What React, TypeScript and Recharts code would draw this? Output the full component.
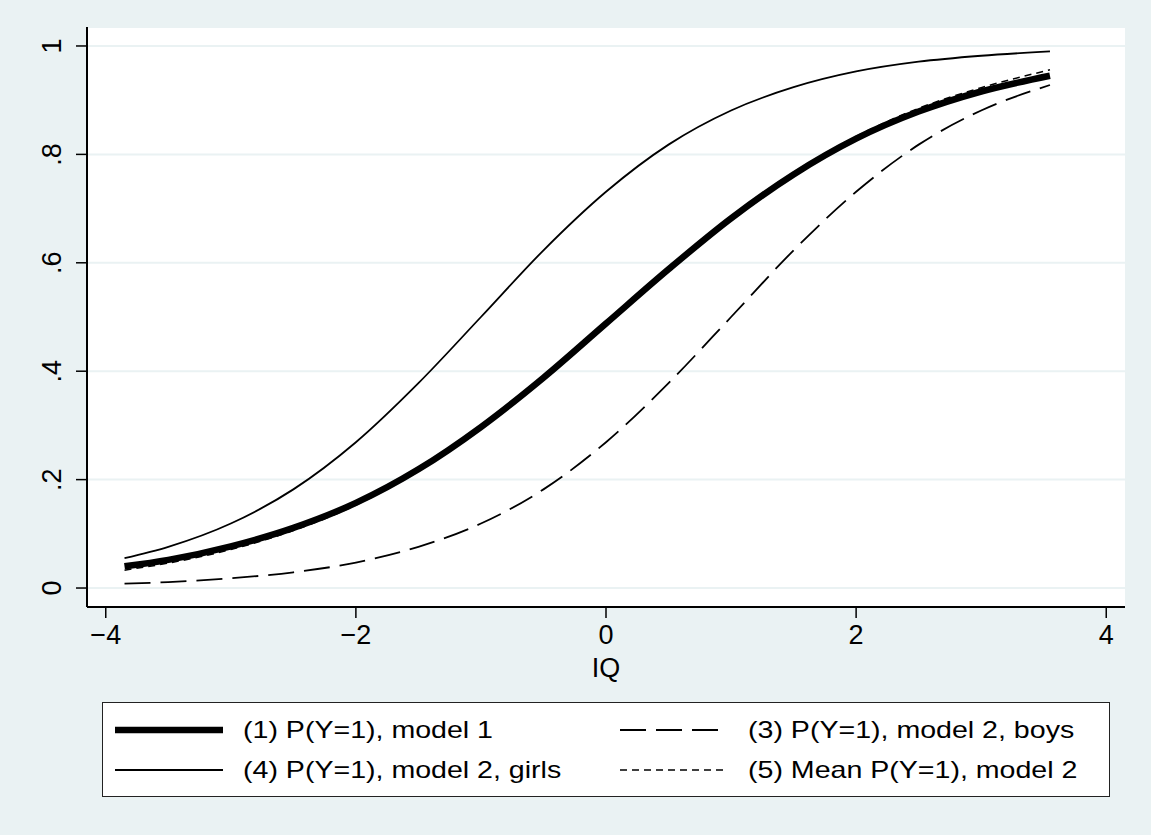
import { LineChart, Line, XAxis, YAxis, CartesianGrid } from 'recharts';

const BG = '#eaf2f3';
const FONT = '"Liberation Sans", Arial, Helvetica, sans-serif';

// IQ values and predicted probabilities
const iq = [-3.85, -3.5, -3, -2.5, -2, -1.5, -1, -0.5, 0, 0.5, 1, 1.5, 2, 2.5, 3, 3.55];
const model1 = [0.040, 0.052, 0.077, 0.111, 0.157, 0.219, 0.297, 0.388, 0.488, 0.588, 0.682, 0.763, 0.829, 0.879, 0.916, 0.945];
const boys = [0.008, 0.011, 0.018, 0.029, 0.047, 0.076, 0.119, 0.182, 0.269, 0.378, 0.5, 0.623, 0.731, 0.818, 0.881, 0.928];
const girls = [0.055, 0.076, 0.119, 0.182, 0.269, 0.378, 0.5, 0.623, 0.731, 0.818, 0.881, 0.924, 0.953, 0.971, 0.982, 0.990];
const meanModel2 = [0.033, 0.046, 0.071, 0.106, 0.153, 0.216, 0.294, 0.386, 0.488, 0.589, 0.683, 0.765, 0.833, 0.885, 0.923, 0.956];

const xTicks = [-4, -2, 0, 2, 4];
const yTicks = [0, 0.2, 0.4, 0.6, 0.8, 1];

const data = iq.map((x, i) => ({
  x,
  m1: model1[i],
  boys: boys[i],
  girls: girls[i],
  mean: meanModel2[i],
}));

const series = [
  { key: 'm1', name: '(1) P(Y=1), model 1', width: 6.5, dash: undefined as string | undefined },
  { key: 'boys', name: '(3) P(Y=1), model 2, boys', width: 1.8, dash: '26 10' },
  { key: 'girls', name: '(4) P(Y=1), model 2, girls', width: 1.8, dash: undefined },
  { key: 'mean', name: '(5) Mean P(Y=1), model 2', width: 1.5, dash: '7 5' },
];

// legend order: two columns, row-wise
const legendOrder = ['m1', 'boys', 'girls', 'mean'];

const fmtX = (v: number) => String(v).replace('-', '\u2212');
const fmtY = (v: number) => (v === 0 ? '0' : v === 1 ? '1' : String(v).replace('0.', '.'));

function YTick(props: any) {
  const { y, payload } = props;
  const bx = 61;
  return (
    <text
      x={bx}
      y={y}
      transform={`rotate(-90, ${bx}, ${y})`}
      textAnchor="middle"
      fontSize={27}
      fontFamily={FONT}
      fill="#000"
    >
      {fmtY(payload.value)}
    </text>
  );
}

function XLabel(props: any) {
  const vb = props.viewBox;
  return (
    <text
      x={vb.x + vb.width / 2}
      y={vb.y + 70}
      textAnchor="middle"
      fontSize={27}
      fontFamily={FONT}
      fill="#000"
    >
      IQ
    </text>
  );
}

function LegendBox() {
  const items = legendOrder.map((k) => series.find((s) => s.key === k)!);
  return (
    <div
      style={{
        position: 'absolute',
        left: 102,
        top: 702,
        width: 1008,
        height: 95,
        background: '#fff',
        border: '1px solid #222',
        boxSizing: 'border-box',
      }}
    >
      {items.map((s, i) => {
        const col = i % 2;
        const row = Math.floor(i / 2);
        const left = col === 0 ? 12 : 517;
        const top = row === 0 ? 27 : 67;
        return (
          <div key={s.key} style={{ position: 'absolute', left, top: top - 15, height: 30, display: 'flex', alignItems: 'center' }}>
            <svg width={108} height={30}>
              <line x1={0} x2={108} y1={15} y2={15} stroke="#000" strokeWidth={s.width} strokeDasharray={s.dash} />
            </svg>
            <span
              style={{
                marginLeft: 20,
                fontFamily: FONT,
                fontSize: 24,
                color: '#000',
                whiteSpace: 'nowrap',
                display: 'inline-block',
                transform: 'scaleX(1.19)',
                transformOrigin: 'left center',
              }}
            >
              {s.name}
            </span>
          </div>
        );
      })}
    </div>
  );
}

export default function App() {
  return (
    <div style={{ position: 'absolute', left: 0, top: 0, width: 1151, height: 835, background: BG }}>
      <LineChart width={1151} height={835} data={data} margin={{ top: 27, right: 26, left: 0, bottom: 0 }}>
        <CartesianGrid vertical={false} fill="#fff" stroke={BG} strokeWidth={2} />
        <XAxis
          dataKey="x"
          type="number"
          domain={[-4.15, 4.15]}
          ticks={xTicks}
          tickFormatter={fmtX}
          height={228}
          tickSize={11}
          tickMargin={7}
          axisLine={{ stroke: '#000', strokeWidth: 2 }}
          tickLine={{ stroke: '#000', strokeWidth: 1.5 }}
          tick={{ fontSize: 27, fontFamily: FONT, fill: '#000' }}
          label={<XLabel />}
        />
        <YAxis
          type="number"
          domain={[-0.035, 1.035]}
          ticks={yTicks}
          width={87}
          tickSize={11}
          axisLine={{ stroke: '#000', strokeWidth: 2 }}
          tickLine={{ stroke: '#000', strokeWidth: 1.5 }}
          tick={<YTick />}
        />
        {series.map((s) => (
          <Line
            key={s.key}
            dataKey={s.key}
            name={s.name}
            type="monotone"
            stroke="#000"
            strokeWidth={s.width}
            strokeDasharray={s.dash}
            dot={false}
            activeDot={false}
            isAnimationActive={false}
          />
        ))}
      </LineChart>
      <LegendBox />
    </div>
  );
}
